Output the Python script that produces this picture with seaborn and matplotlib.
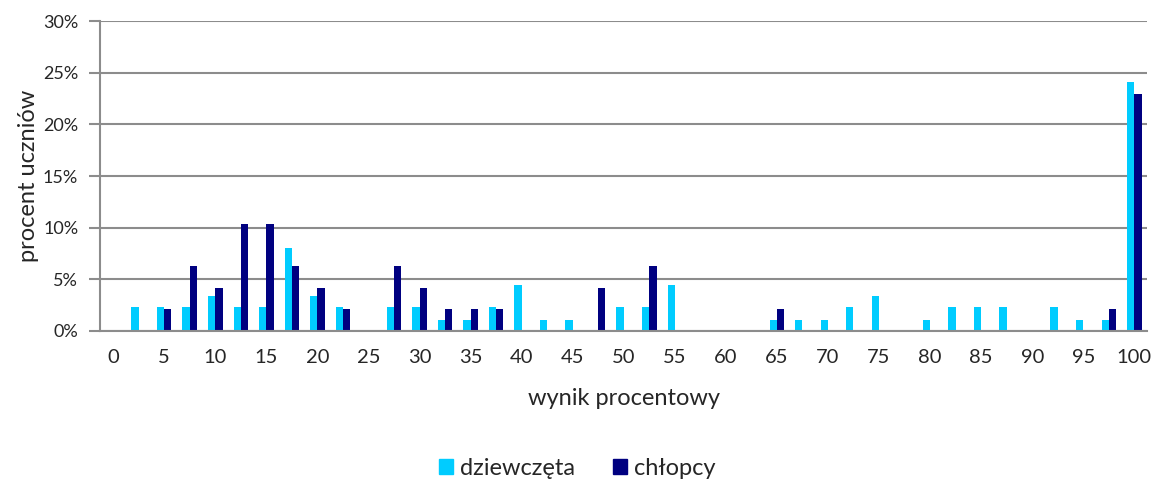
import seaborn as sns
import pandas as pd
import matplotlib.pyplot as plt
from matplotlib.ticker import PercentFormatter

# wynik procentowy: 0, 2.5, 5, ... 100
scores = [0, 2.5, 5, 7.5, 10, 12.5, 15, 17.5, 20, 22.5,
          25, 27.5, 30, 32.5, 35, 37.5, 40, 42.5, 45, 47.5,
          50, 52.5, 55, 57.5, 60, 62.5, 65, 67.5, 70, 72.5,
          75, 77.5, 80, 82.5, 85, 87.5, 90, 92.5, 95, 97.5, 100]

# procent uczniów
girls = [0, 2.3, 2.3, 2.3, 3.4, 2.3, 2.3, 8.0, 3.4, 2.3,
         0, 2.3, 2.3, 1.1, 1.1, 2.3, 4.5, 1.1, 1.1, 0,
         2.3, 2.3, 4.5, 0, 0, 0, 1.1, 1.1, 1.1, 2.3,
         3.4, 0, 1.1, 2.3, 2.3, 2.3, 0, 2.3, 1.1, 1.1, 24.1]
boys = [0, 0, 2.1, 6.3, 4.2, 10.4, 10.4, 6.3, 4.2, 2.1,
        0, 6.3, 4.2, 2.1, 2.1, 2.1, 0, 0, 0, 4.2,
        0, 6.3, 0, 0, 0, 0, 2.1, 0, 0, 0,
        0, 0, 0, 0, 0, 0, 0, 0, 0, 2.1, 22.9]

series = ["dziewczęta", "chłopcy"]
colors = ["#00CCFF", "#000080"]

cats = [f"{s:g}" for s in scores]
df = pd.DataFrame({
    "wynik": cats * 2,
    "procent": girls + boys,
    "plec": [series[0]] * len(cats) + [series[1]] * len(cats),
})

sns.set_style("white")
plt.rcParams["font.family"] = ["Lato", "DejaVu Sans"]

fig = plt.figure(figsize=(11.54, 4.79), dpi=100)
ax = fig.add_axes([0.087, 0.309, 0.907, 0.647])

sns.barplot(data=df, x="wynik", y="procent", hue="plec", order=cats,
            hue_order=series, palette=colors, width=0.57, saturation=1,
            edgecolor="none", ax=ax, legend=False)

ax.set_ylim(0, 30)
ax.set_xlim(-0.5, len(cats) - 0.5)
ax.set_yticks(range(0, 31, 5))
ax.yaxis.set_major_formatter(PercentFormatter(decimals=0))
ax.set_xticks(range(len(cats)))
ax.set_xticklabels([c if i % 2 == 0 else "" for i, c in enumerate(cats)])
ax.grid(axis="y", color="#8c8c8c", linewidth=1.5)
ax.set_axisbelow(True)

for side in ["top", "right"]:
    ax.spines[side].set_visible(False)
for side in ["left", "bottom"]:
    ax.spines[side].set_color("#8c8c8c")
    ax.spines[side].set_linewidth(1.5)

ax.tick_params(axis="y", length=8, width=1.5, color="#8c8c8c", left=True,
               labelsize=13, pad=8)
ax.tick_params(axis="x", length=0, labelsize=14.5, pad=13)

ax.set_xlabel("wynik procentowy", fontsize=17, labelpad=16)
ax.set_ylabel("procent uczniów", fontsize=17, labelpad=3)

handles = [plt.Rectangle((0, 0), 1, 1, color=c) for c in colors]
fig.legend(handles, series, loc="lower center", bbox_to_anchor=(0.5, -0.045),
           ncol=2, frameon=False, fontsize=17, handlelength=0.6,
           handleheight=0.6, handletextpad=0.3, columnspacing=1.6)

fig.savefig("out.png", dpi=100)
